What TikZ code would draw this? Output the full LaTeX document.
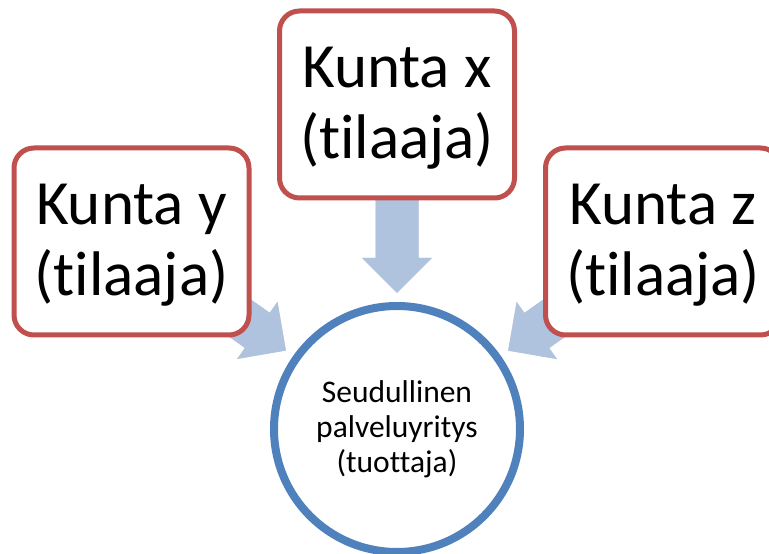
\documentclass[tikz,border=0pt]{standalone}
\usepackage{fontspec}
\setmainfont{Carlito}[Ligatures={NoCommon}]
\usetikzlibrary{calc,backgrounds}
\definecolor{boxred}{HTML}{C0504D}
\definecolor{circblue}{HTML}{4F81BD}
\definecolor{arrowblue}{HTML}{AFC3DE}
\newcommand{\blockarr}[3]{% #1 from node, #2 to node, #3 style
  \path[#3]
    ($(#1)!21.5pt!-90:(#2)$)
    -- ($($(#2)!171pt!(#1)$)!21.5pt!-90:(#2)$)
    -- ($($(#2)!171pt!(#1)$)!35pt!-90:(#2)$)
    -- ($(#2)!136pt!(#1)$)
    -- ($($(#2)!171pt!(#1)$)!35pt!90:(#2)$)
    -- ($($(#2)!171pt!(#1)$)!21.5pt!90:(#2)$)
    -- ($(#1)!21.5pt!90:(#2)$)
    -- cycle;
}
\newcommand{\tallstrut}{\rule{0pt}{48pt}}
\begin{document}
\begin{tikzpicture}[x=1pt,y=1pt,
  kbox/.style={draw=boxred, line width=5pt, rounded corners=20pt, fill=white,
    minimum width=235pt, minimum height=187pt, inner sep=0pt, align=center,
    font=\fontsize{63}{71}\selectfont},
  hub/.style={circle, draw=circblue, line width=8pt, fill=white, minimum size=246pt,
    inner sep=0pt, align=center, font=\fontsize{31.5}{35}\selectfont},
  blockarrow/.style={fill=arrowblue},
  arrowshadow/.style={fill=black, opacity=0.18}]
\clip (0,0) rectangle (769,554);
\node[kbox] (x) at (397,449.5) {\tallstrut Kunta x\\(tilaaja)};
\node[kbox] (y) at (131.5,312.5) {\tallstrut Kunta y\\(tilaaja)};
\node[kbox] (z) at (663,312.5) {\tallstrut Kunta z\\(tilaaja)};
\node[hub] (c) at (397,125) {Seudullinen\\palveluyritys\\(tuottaja)};
\begin{scope}[on background layer]
  \fill[white] (0,0) rectangle (769,554);
  \begin{scope}[shift={(1.2,-1.8)}]
    \blockarr{x}{c}{arrowshadow}
    \blockarr{y}{c}{arrowshadow}
    \blockarr{z}{c}{arrowshadow}
  \end{scope}
  \blockarr{x}{c}{blockarrow}
  \blockarr{y}{c}{blockarrow}
  \blockarr{z}{c}{blockarrow}
\end{scope}
\end{tikzpicture}
\end{document}
